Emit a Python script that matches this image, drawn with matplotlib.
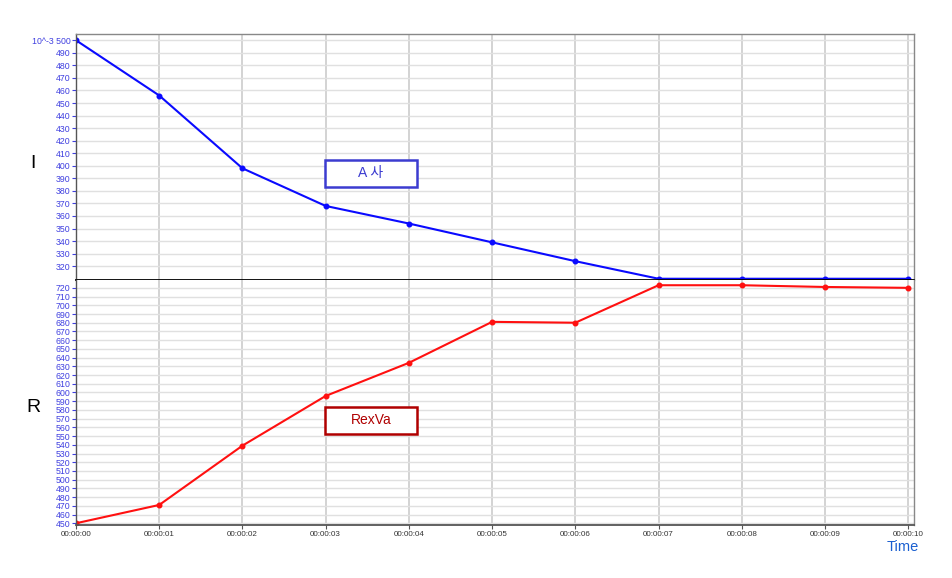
import matplotlib
matplotlib.use("Agg")
import matplotlib.pyplot as plt
from matplotlib.patches import Rectangle
import numpy as np

plt.rcParams['font.family'] = ['Liberation Sans', 'Noto Sans CJK KR', 'DejaVu Sans']

t = [0, 1, 2, 3, 4, 5, 6, 7, 8, 9, 10]
x_labels = ["00:00:00", "00:00:01", "00:00:02", "00:00:03", "00:00:04", "00:00:05",
            "00:00:06", "00:00:07", "00:00:08", "00:00:09", "00:00:10"]
i_values = [500, 456, 398, 368, 354, 339, 324, 310, 310, 310, 310]
r_values = [450, 471, 539, 596, 634, 681, 680, 723, 723, 721, 720]
i_ticks = list(range(320, 501, 10))
r_ticks = list(range(450, 721, 10))
i_label = "I"
r_label = "R"
i_legend = "A 사"
r_legend = "RexVa"

W, H = 953, 578
fig = plt.figure(figsize=(W / 100, H / 100), dpi=100)

left = 76 / W
right = 914 / W
ax1 = fig.add_axes([left, 1 - 280 / H, right - left, (280 - 34) / H])
ax2 = fig.add_axes([left, 1 - 525 / H, right - left, (525 - 280) / H])

tick_color = "#4040e0"

for ax in (ax1, ax2):
    ax.set_xlim(0, 10.07)
    ax.set_xticks(t)
    ax.grid(True, axis='y', color="#e0e0e0", linewidth=1.0)
    ax.grid(True, axis='x', color="#c8c8c8", linewidth=1.1)
    ax.set_axisbelow(True)
    ax.tick_params(axis='y', colors=tick_color, labelsize=6.3, length=3, width=0.8, pad=1)
    for s in ax.spines.values():
        s.set_color("#888888")
        s.set_linewidth(1.0)
    ax.spines['left'].set_color("#555555")

ax1.plot(t, i_values, color="#0a0aff", linewidth=1.5, marker='o', markersize=3.3)
ax1.set_ylim(309, 505)
ax1.set_yticks(i_ticks)
ax1.set_yticklabels([("10^-3 " + str(v)) if v == 500 else str(v) for v in i_ticks])
ax1.tick_params(axis='x', length=0, labelbottom=False)
ax1.spines['bottom'].set_color("black")
ax1.spines['bottom'].set_linewidth(1.3)

ax2.plot(t, r_values, color="#ff1010", linewidth=1.5, marker='o', markersize=3.3)
ax2.set_ylim(448, 729)
ax2.set_yticks(r_ticks)
ax2.set_yticklabels([str(v) for v in r_ticks])
ax2.spines['top'].set_visible(False)
ax2.spines['bottom'].set_color("#555555")
ax2.spines['bottom'].set_linewidth(1.3)
ax2.set_xticklabels(x_labels)
ax2.tick_params(axis='x', colors="#555555", labelsize=5.8, length=3, pad=1.5, labelcolor="#333333")

fig.text(33 / W, 1 - 163 / H, i_label, fontsize=14, ha='center', va='center', color='black')
fig.text(33 / W, 1 - 408 / H, r_label, fontsize=14, ha='center', va='center', color='black')
fig.text(903 / W, 1 - 547 / H, "Time", fontsize=10.5, ha='center', va='center', color="#1a5fd0")

# legend boxes
bx0, bw, bh = 325, 92, 27
for (y0, txt, ec, tc) in [(160, i_legend, "#3c3cd0", "#3c3cd0"), (407, r_legend, "#b00000", "#b00000")]:
    fig.patches.append(Rectangle((bx0 / W, 1 - (y0 + bh) / H), bw / W, bh / H,
                                 transform=fig.transFigure, fill=True, facecolor='white',
                                 edgecolor=ec, linewidth=1.8))
    fig.text((bx0 + bw / 2) / W, 1 - (y0 + bh / 2) / H, txt, fontsize=10, ha='center', va='center',
             color=tc, family=['Liberation Sans', 'Noto Sans CJK KR'])

fig.savefig("out.png", dpi=100)
